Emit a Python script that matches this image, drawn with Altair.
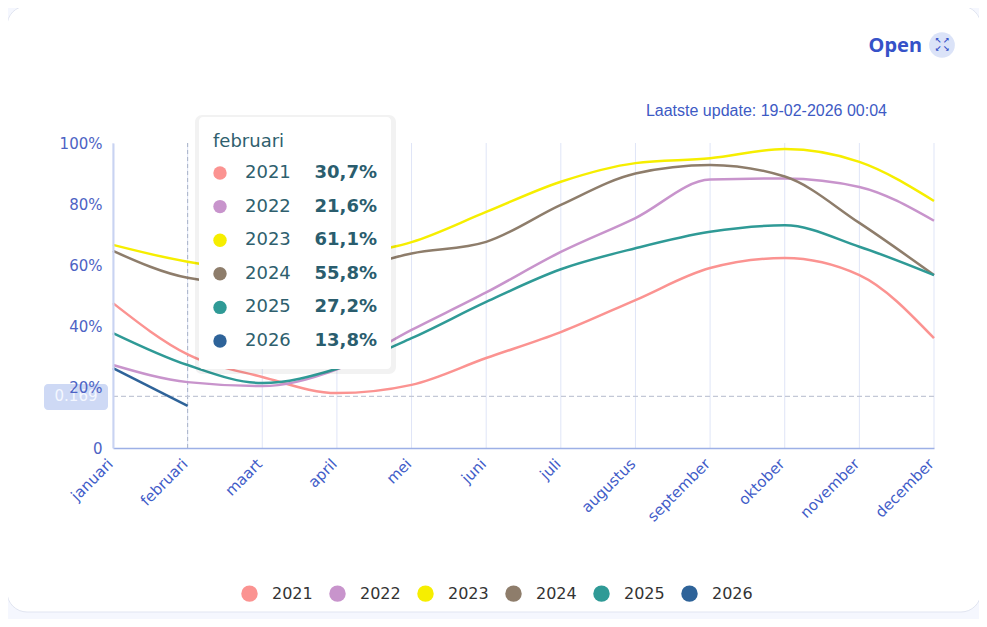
import altair as alt
import pandas as pd

months = ["januari", "februari", "maart", "april", "mei", "juni", "juli",
          "augustus", "september", "oktober", "november", "december"]
years = ["2021", "2022", "2023", "2024", "2025", "2026"]
colors = ["#fb9391", "#c894cc", "#f6ee00", "#8e7d6b", "#2f9a96", "#2e6399"]

v2021 = [47.5, 30.7, 23.3, 18.0, 20.7, 29.5, 38.0, 48.5, 59.0, 62.3, 56.7, 36.0]
v2022 = [27.2, 21.6, 20.3, 25.8, 38.7, 51.0, 64.3, 75.4, 88.0, 88.4, 85.6, 74.5]
v2023 = [66.6, 61.1, 58.5, 62.5, 67.5, 77.4, 87.3, 93.4, 95.0, 98.0, 93.8, 81.0]
v2024 = [64.6, 55.8, 53.5, 57.5, 63.8, 67.6, 79.7, 90.0, 92.8, 89.0, 73.8, 56.7]
v2025 = [37.7, 27.2, 21.3, 26.0, 36.0, 47.9, 58.6, 65.5, 70.9, 73.0, 66.0, 56.7]
v2026 = [26.2, 13.8]

hover_month = "februari"
pointer_value = 0.169
update_text = "Laatste update: 19-02-2026 00:04"

series = [v2021, v2022, v2023, v2024, v2025, v2026]
rows = []
for year, vals in zip(years, series):
    for i, v in enumerate(vals):
        rows.append({"maand": months[i], "idx": i, "jaar": year, "waarde": v})
df = pd.DataFrame(rows)

W, H = 821, 305
FONT = "DejaVu Sans"
one = pd.DataFrame({"k": [0]})
xscale = alt.Scale(type="point", padding=0, domain=months)
cscale = alt.Scale(domain=years, range=colors)


def px_to_val(py):
    # tooltip rows are placed in pixels of the plot, turned into y-scale units
    return 100 - py * 100 / H


card = alt.Chart(one).mark_rect(fill="white", stroke="#e1e5f1", strokeWidth=1,
                                cornerRadius=20).encode(
    x=alt.value(-106), x2=alt.value(868), y=alt.value(-137), y2=alt.value(469))

grid = alt.Chart(pd.DataFrame({"maand": months})).mark_rule(
    color="#dfe5f7", strokeWidth=1).encode(
    x=alt.X("maand:N", sort=months, scale=xscale), y=alt.value(0), y2=alt.value(H))

x_enc = alt.X("maand:N", sort=months, title=None, scale=xscale,
              axis=alt.Axis(labelAngle=-45, labelAlign="right", labelBaseline="top",
                            labelFont=FONT, labelFontSize=15, labelColor="#3f5cc8",
                            labelPadding=8, labelOffset=-8, tickSize=0, grid=False,
                            zindex=1, domainColor="#9db0e6", domainWidth=1.5))
y_enc = alt.Y("waarde:Q", title=None,
              scale=alt.Scale(domain=[0, 100], nice=False),
              axis=alt.Axis(values=[0, 20, 40, 60, 80, 100], grid=False, zindex=1,
                            labelExpr="datum.value == 0 ? '0' : datum.value + '%'",
                            labelFont=FONT, labelFontSize=15, labelColor="#4d63c4",
                            labelPadding=11, tickSize=0,
                            domainColor="#c9d3f2", domainWidth=2))

lines = alt.Chart(df).mark_line(strokeWidth=2.5, interpolate="monotone").encode(
    x=x_enc, y=y_enc,
    color=alt.Color("jaar:N", scale=cscale, legend=None),
    order=alt.Order("idx:Q"))

vrule = alt.Chart(pd.DataFrame({"maand": [hover_month]})).mark_rule(
    color="#a9b3c9", strokeDash=[4, 3], strokeWidth=1).encode(
    x=alt.X("maand:N", sort=months, scale=xscale))
hrule = alt.Chart(pd.DataFrame({"waarde": [pointer_value * 100]})).mark_rule(
    color="#c3c8d6", strokeDash=[5, 3], strokeWidth=1.2).encode(
    y="waarde:Q", x=alt.value(0), x2=alt.value(W))

pbox = alt.Chart(one).mark_rect(fill="#c6d2f3", opacity=0.85, cornerRadius=4).encode(
    x=alt.value(-69), x2=alt.value(-5), y=alt.value(241), y2=alt.value(267))
ptext = alt.Chart(pd.DataFrame({"waarde": [pointer_value * 100],
                                "t": [f"{pointer_value:.3f}"]})).mark_text(
    font=FONT, fontSize=15, color="#f4f7ff", align="center", baseline="middle").encode(
    y="waarde:Q", x=alt.value(-37), text="t:N")

# tooltip for the hovered month
feb = [vals[months.index(hover_month)] for vals in series]
tip = pd.DataFrame({
    "jaar": years,
    "waarde": [px_to_val(30 + i * 33.6) for i in range(len(years))],
    "label": [f"{v:.1f}%".replace(".", ",") for v in feb],
})
shadow = alt.Chart(one).mark_rect(fill="#000000", opacity=0.05, cornerRadius=7).encode(
    x=alt.value(82), x2=alt.value(283), y=alt.value(-28), y2=alt.value(231))
tbox = alt.Chart(one).mark_rect(fill="white", cornerRadius=4).encode(
    x=alt.value(86), x2=alt.value(278), y=alt.value(-26), y2=alt.value(226))
ttitle = alt.Chart(pd.DataFrame({"t": [hover_month]})).mark_text(
    font=FONT, fontSize=18, color="#2f5f6e", align="left", baseline="alphabetic").encode(
    x=alt.value(100), y=alt.value(4), text="t:N")
tdots = alt.Chart(tip).mark_point(filled=True, shape="circle", size=180, opacity=1).encode(
    x=alt.value(107), y="waarde:Q",
    color=alt.Color("jaar:N", scale=cscale,
                    legend=alt.Legend(title=None, orient="none", direction="horizontal",
                                      legendX=128, legendY=442, symbolType="circle",
                                      symbolSize=270, symbolStrokeWidth=0,
                                      symbolOpacity=1,
                                      labelFont=FONT, labelFontSize=16,
                                      labelColor="#333333", labelOffset=14,
                                      columnPadding=16)))
tyears = alt.Chart(tip).mark_text(font=FONT, fontSize=18, color="#2f5f6e",
                                  align="left", baseline="middle").encode(
    x=alt.value(132), y="waarde:Q", text="jaar:N")
tvals = alt.Chart(tip).mark_text(font=FONT, fontSize=18, fontWeight="bold",
                                 color="#2a5d6e", align="right", baseline="middle").encode(
    x=alt.value(264), y="waarde:Q", text="label:N")

upd = alt.Chart(pd.DataFrame({"t": [update_text]})).mark_text(
    font="Liberation Sans", fontSize=16, color="#3d5ac4", align="right",
    baseline="middle").encode(x=alt.value(774), y=alt.value(-32), text="t:N")
open_t = alt.Chart(pd.DataFrame({"t": ["Open"]})).mark_text(
    font="Noto Sans", fontSize=20, fontWeight="bold", color="#3652c8", align="right",
    baseline="middle").encode(x=alt.value(809), y=alt.value(-97), text="t:N")
open_c = alt.Chart(one).mark_point(filled=True, shape="circle", size=660,
                                   color="#dbe3f8", opacity=1).encode(
    x=alt.value(829), y=alt.value(-98))
icon = []
for glyph, ix, iy in [("\u2196", 825, -102), ("\u2197", 833, -102),
                      ("\u2199", 825, -94), ("\u2198", 833, -94)]:
    icon.append(alt.Chart(pd.DataFrame({"t": [glyph]})).mark_text(
        font=FONT, fontSize=8, fontWeight="bold", color="#3652c8", align="center",
        baseline="middle").encode(x=alt.value(ix), y=alt.value(iy), text="t:N"))

chart = alt.layer(
    card, grid, vrule, hrule, lines, pbox, ptext, shadow, tbox, ttitle, tdots, tyears,
    tvals, upd, open_t, open_c, *icon
).resolve_legend(color="independent").properties(
    width=W, height=H,
    autosize=alt.AutoSizeParams(type="none"),
    padding={"left": 105, "top": 135, "right": 45, "bottom": 171},
    background="#f5f7fe",
).configure_view(stroke=None)

chart.save("out.html", embed_options={"renderer": "svg", "actions": False})
